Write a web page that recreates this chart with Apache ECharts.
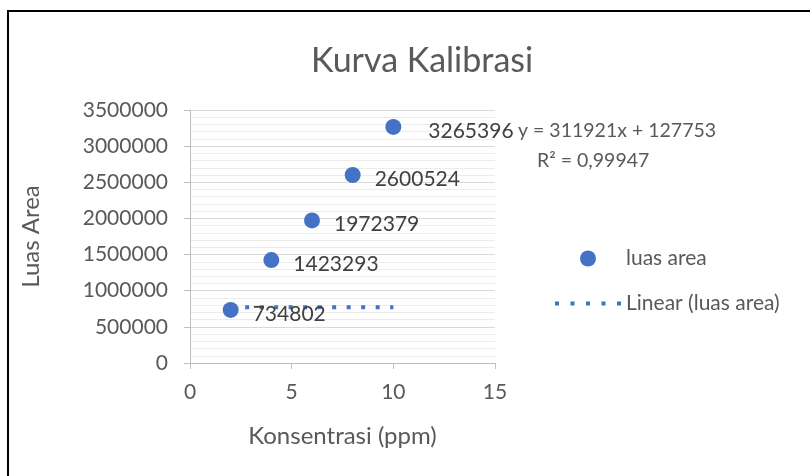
<!DOCTYPE html>
<html>
<head>
<meta charset="utf-8">
<script src="https://cdn.jsdelivr.net/npm/echarts@6/dist/echarts.min.js"></script>
<style>
html,body{margin:0;padding:0;background:#fff;}
#c{width:810px;height:476px;}
</style>
</head>
<body>
<div id="c"></div>
<script>
var xValues = [2, 4, 6, 8, 10];
var yValues = [734802, 1423293, 1972379, 2600524, 3265396];
var trendX = [2, 10];
var trendY = [770000, 770000];
var equationText = 'y = 311921x + 127753';
var r2Text = 'R² = 0,99947';
var titleText = 'Kurva Kalibrasi';
var xName = 'Konsentrasi (ppm)';
var yName = 'Luas Area';
var seriesName = 'luas area';
var trendName = 'Linear (luas area)';

var FONT = 'Lato';
var TXT = '#595959';
var BLUE = '#4472c4';
var chart = echarts.init(document.getElementById('c'), null, {renderer: 'canvas'});
var scatterData = xValues.map(function (x, i) {
  var item = {value: [x, yValues[i]]};
  if (i === xValues.length - 1) item.label = {distance: 27};
  return item;
});
var trendData = trendX.map(function (x, i) { return [x, trendY[i]]; });

chart.setOption({
  animation: false,
  backgroundColor: '#fff',
  textStyle: {fontFamily: FONT},
  title: {
    text: titleText, left: 306, top: 39,
    textStyle: {fontFamily: FONT, fontSize: 34, fontWeight: 'normal', color: TXT}
  },
  grid: {left: 190, right: 315, top: 110, bottom: 113, containLabel: false},
  xAxis: {
    type: 'value', min: 0, max: 15, interval: 5,
    name: xName, nameLocation: 'middle', nameGap: 61,
    nameTextStyle: {fontFamily: FONT, fontSize: 24, color: TXT},
    axisLine: {show: true, onZero: false, lineStyle: {color: '#bfbfbf', width: 1}},
    axisTick: {show: true, length: 6, lineStyle: {color: '#bfbfbf'}},
    axisLabel: {fontFamily: FONT, fontSize: 21, color: TXT, margin: 19},
    splitLine: {show: false}
  },
  yAxis: {
    type: 'value', min: 0, max: 3500000, interval: 500000,
    name: yName, nameLocation: 'middle', nameGap: 147, nameRotate: 90,
    nameTextStyle: {fontFamily: FONT, fontSize: 24, color: TXT},
    axisLine: {show: true, lineStyle: {color: '#bfbfbf', width: 1}},
    axisTick: {show: true, length: 6, lineStyle: {color: '#bfbfbf'}},
    axisLabel: {fontFamily: FONT, fontSize: 21, color: TXT, margin: 22,
      formatter: function (v) { return String(v); }},
    splitLine: {show: true, lineStyle: {color: '#d9d9d9', width: 1}},
    minorTick: {show: false, splitNumber: 5},
    minorSplitLine: {show: true, lineStyle: {color: '#ececec', width: 1}}
  },
  legend: [
    {
      orient: 'vertical', left: 575, top: 243,
      itemWidth: 66, itemHeight: 16,
      textStyle: {fontFamily: FONT, fontSize: 21, color: TXT},
      data: [{name: seriesName, icon: 'circle'}]
    },
    {
      orient: 'vertical', left: 550, top: 288,
      itemWidth: 66, itemHeight: 4,
      textStyle: {fontFamily: FONT, fontSize: 21, color: TXT},
      data: [{name: trendName,
        icon: 'path://M0 0h4v4h-4zM15.5 0h4v4h-4zM31 0h4v4h-4zM46.5 0h4v4h-4zM62 0h4v4h-4z'}]
    }
  ],
  series: [
    {
      name: trendName, type: 'line', data: trendData, symbol: 'none',
      color: BLUE, itemStyle: {color: BLUE},
      lineStyle: {color: BLUE, width: 4, type: [4, 10.5], dashOffset: 0},
      z: 1
    },
    {
      name: seriesName, type: 'scatter', data: scatterData,
      symbol: 'circle', symbolSize: 16,
      color: BLUE,
      itemStyle: {color: BLUE, opacity: 1},
      label: {
        show: true, position: 'right', distance: 14, offset: [0, 4],
        fontFamily: FONT, fontSize: 21, color: '#404040',
        formatter: function (p) { return String(p.value[1]); }
      },
      z: 3
    }
  ],
  graphic: [
    {type: 'rect', shape: {x: 8, y: 11, width: 820, height: 480},
     style: {fill: 'none', stroke: '#000', lineWidth: 2}, z: 100},
    {type: 'text', left: 518, top: 121,
     style: {text: equationText, font: '19.5px ' + FONT, fill: TXT}},
    {type: 'text', left: 537, top: 151,
     style: {text: r2Text, font: '19.5px ' + FONT, fill: TXT}}
  ]
});
</script>
</body>
</html>
